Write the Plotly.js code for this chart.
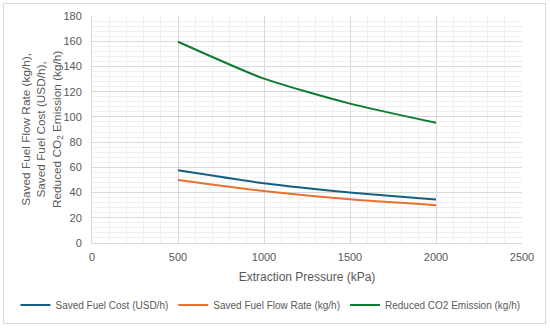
<!DOCTYPE html>
<html><head><meta charset="utf-8">
<script src="https://cdn.plot.ly/plotly-3.0.1.min.js"></script>
<style>
html,body{margin:0;padding:0;background:#fff;}
#frame{position:absolute;left:3px;top:3px;width:543px;height:321px;border:1px solid #d9d9d9;box-sizing:border-box;}
#chart{position:absolute;left:0;top:0;width:550px;height:330px;}
</style></head>
<body>
<div id="frame"></div>
<div id="chart"></div>
<script>
const pressure = [500, 1000, 1500, 2000];
const fuelCost = [57.6, 47.3, 40.0, 34.4];
const fuelFlow = [50.0, 41.2, 34.6, 29.9];
const co2 = [159.6, 130.3, 110.5, 95.3];
const seriesNames = ['Saved Fuel Cost (USD/h)', 'Saved Fuel Flow Rate (kg/h)', 'Reduced CO2 Emission (kg/h)'];
const yTitle = 'Saved Fuel Flow Rate (kg/h),<br>Saved Fuel Cost (USD/h),<br>Reduced CO<sub>2</sub> Emission (kg/h)';
const xTitle = 'Extraction Pressure (kPa)';
const colors = ['#156082', '#e97132', '#0e7c2f'];
const font = {family: 'Liberation Sans, Arial, sans-serif', color: '#595959', size: 11};
const traces = [fuelCost, fuelFlow, co2].map((v, i) => ({
  x: pressure, y: v, type: 'scatter', mode: 'lines', name: seriesNames[i],
  line: {color: colors[i], width: 2, shape: 'spline', smoothing: 0.6}
}));
const layout = {
  width: 550, height: 330,
  margin: {l: 92, r: 28, t: 16, b: 87, autoexpand: false},
  paper_bgcolor: 'rgba(0,0,0,0)', plot_bgcolor: 'rgba(0,0,0,0)',
  font: font,
  showlegend: true,
  legend: {orientation: 'h', x: -0.178, xanchor: 'left', y: -0.273, yanchor: 'middle',
    font: {size: 10, color: '#595959'}, traceorder: 'normal'},
  xaxis: {
    range: [0, 2500], dtick: 500, tick0: 0, showgrid: true, gridcolor: '#d9d9d9', gridwidth: 1,
    minor: {dtick: 100, showgrid: true, gridcolor: '#f0f0f0', gridwidth: 1},
    zeroline: false, showline: true, linecolor: '#d9d9d9', ticks: '', ticklabelstandoff: 4,
    tickfont: {size: 11, color: '#595959'},
    title: {text: xTitle, font: {size: 12, color: '#595959'}, standoff: 10}
  },
  yaxis: {
    range: [0, 180], dtick: 20, tick0: 0, showgrid: true, gridcolor: '#d9d9d9', gridwidth: 1,
    minor: {dtick: 4, showgrid: true, gridcolor: '#f0f0f0', gridwidth: 1},
    zeroline: false, showline: true, linecolor: '#d9d9d9', ticks: '', ticklabelstandoff: 7,
    tickfont: {size: 11, color: '#595959'}
  },
  annotations: [{
    text: yTitle, xref: 'paper', yref: 'paper', x: -0.116, y: 0.498, xanchor: 'center', yanchor: 'middle',
    textangle: -90, showarrow: false, align: 'center', font: {size: 11.8, color: '#595959'}
  }]
};
Plotly.newPlot('chart', traces, layout, {displayModeBar: false, staticPlot: true});
</script>
</body></html>
